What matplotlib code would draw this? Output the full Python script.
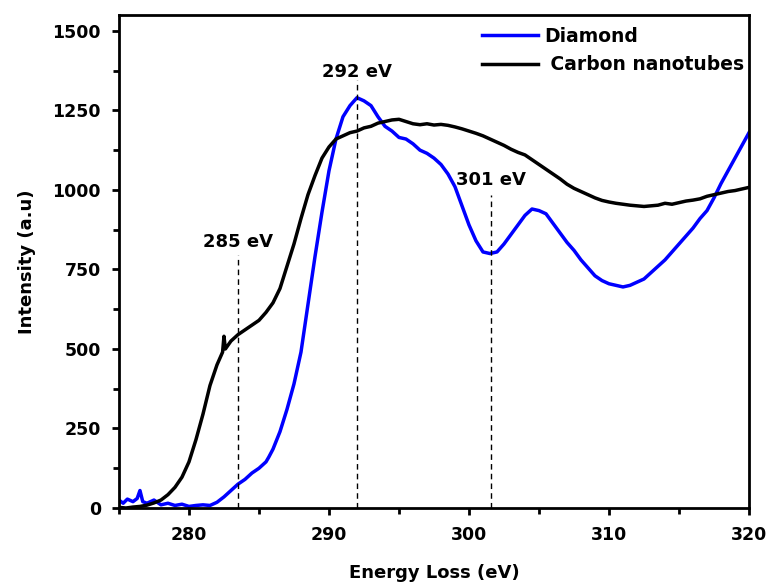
import matplotlib
matplotlib.use("Agg")
import matplotlib.pyplot as plt
from matplotlib.ticker import MultipleLocator

plt.rcParams['font.family'] = ['DejaVu Sans']
plt.rcParams['font.weight'] = 'bold'

# Carbon nanotubes spectrum
cnt_x = [275.0, 275.5, 276.0, 276.5, 277.0, 277.5, 278.0, 278.5, 279.0, 279.5,
         280.0, 280.5, 281.0, 281.5, 282.0, 282.4, 282.5, 282.6, 283.0, 283.5,
         284.0, 284.5, 285.0, 285.5, 286.0, 286.5, 287.0, 287.5, 288.0, 288.5,
         289.0, 289.5, 290.0, 290.5, 291.0, 291.5, 292.0, 292.5, 293.0, 293.5,
         294.0, 294.5, 295.0, 295.5, 296.0, 296.5, 297.0, 297.5, 298.0, 298.5,
         299.0, 299.5, 300.0, 300.5, 301.0, 301.5, 302.0, 302.5, 303.0, 303.5,
         304.0, 304.5, 305.0, 305.5, 306.0, 306.5, 307.0, 307.5, 308.0, 308.5,
         309.0, 309.5, 310.0, 310.5, 311.0, 311.5, 312.0, 312.5, 313.0, 313.5,
         314.0, 314.5, 315.0, 315.5, 316.0, 316.5, 317.0, 317.5, 318.0, 318.5,
         319.0, 319.5, 320.0]
cnt_y = [2, 0, 3, 5, 9, 16, 25, 42, 65, 97,
         145, 215, 295, 385, 450, 490, 540, 500, 525, 545,
         560, 575, 590, 615, 645, 690, 760, 830, 910, 985,
         1045, 1100, 1135, 1160, 1170, 1180, 1185, 1195, 1200, 1210,
         1215, 1220, 1222, 1215, 1208, 1205, 1208, 1204, 1206, 1203,
         1198, 1192, 1185, 1178, 1170, 1160, 1150, 1140, 1128, 1118,
         1110, 1095, 1080, 1065, 1050, 1035, 1018, 1005, 995, 985,
         975, 967, 962, 958, 955, 952, 950, 948, 950, 952,
         958, 955, 960, 965, 968, 972, 980, 985, 990, 995,
         998, 1003, 1008]

# Diamond spectrum
dia_x = [275.0, 275.3, 275.6, 276.0, 276.3, 276.5, 276.7, 277.0, 277.5, 278.0,
         278.5, 279.0, 279.5, 280.0, 280.5, 281.0, 281.5, 282.0, 282.5, 283.0,
         283.5, 284.0, 284.5, 285.0, 285.5, 285.7, 286.0, 286.5, 287.0, 287.5,
         288.0, 288.5, 289.0, 289.5, 290.0, 290.5, 291.0, 291.5, 292.0, 292.5,
         293.0, 293.5, 294.0, 294.5, 295.0, 295.5, 296.0, 296.5, 297.0, 297.5,
         298.0, 298.5, 299.0, 299.5, 300.0, 300.5, 301.0, 301.5, 302.0, 302.5,
         303.0, 303.5, 304.0, 304.5, 305.0, 305.5, 306.0, 306.5, 307.0, 307.5,
         308.0, 308.5, 309.0, 309.5, 310.0, 310.5, 311.0, 311.5, 312.0, 312.5,
         313.0, 313.5, 314.0, 314.5, 315.0, 315.5, 316.0, 316.5, 317.0, 317.5,
         318.0, 318.5, 319.0, 319.5, 320.0]
dia_y = [25, 15, 28, 20, 30, 55, 20, 15, 25, 10,
         15, 8, 12, 5, 8, 10, 8, 18, 35, 55,
         75, 90, 110, 125, 145, 160, 185, 240, 310, 390,
         490, 640, 790, 930, 1060, 1160, 1230, 1265, 1290, 1280,
         1265, 1230, 1200, 1185, 1165, 1160, 1145, 1125, 1115, 1100,
         1080, 1050, 1010, 950, 890, 840, 805, 800, 805, 830,
         860, 890, 920, 940, 935, 925, 895, 865, 835, 810,
         780, 755, 730, 715, 705, 700, 695, 700, 710, 720,
         740, 760, 780, 805, 830, 855, 880, 910, 935, 975,
         1020, 1060, 1100, 1140, 1180]

# dashed markers: position, top of line, label and label height
peak_x = [283.5, 292.0, 301.6]
peak_top = [795, 1346, 984]
peak_labels = ['285 eV', '292 eV', '301 eV']
label_y = [836, 1371, 1031]

fig = plt.figure(figsize=(7.69, 5.85), dpi=100)
ax = fig.add_axes([0.1547, 0.1316, 0.8193, 0.8428])

ax.plot(dia_x, dia_y, color='#0000ff', lw=2.5, label='Diamond')
ax.plot(cnt_x, cnt_y, color='black', lw=2.5, label=' Carbon nanotubes')

for px, top, lab, ly in zip(peak_x, peak_top, peak_labels, label_y):
    ax.plot([px, px], [0, top], color='black', lw=1, ls=(0, (4, 3)))
    ax.text(px, ly, lab, ha='center', va='center', fontsize=13, fontweight='bold')

ax.set_xlim(275, 320)
ax.set_ylim(0, 1550)
ax.xaxis.set_major_locator(MultipleLocator(10))
ax.xaxis.set_minor_locator(MultipleLocator(5))
ax.yaxis.set_major_locator(MultipleLocator(250))
ax.yaxis.set_minor_locator(MultipleLocator(125))
ax.tick_params(which='major', direction='out', length=5, width=2, labelsize=12.5, pad=8)
ax.tick_params(which='minor', direction='out', length=4, width=2)
ax.tick_params(top=False, right=False)
for s in ax.spines.values():
    s.set_linewidth(2)
for lab in ax.get_xticklabels() + ax.get_yticklabels():
    lab.set_fontweight('bold')

ax.set_xlabel('Energy Loss (eV)', fontsize=13, fontweight='bold', labelpad=14)
ax.set_ylabel('Intensity (a.u)', fontsize=13, fontweight='bold', labelpad=12)

leg = ax.legend(loc='upper left', bbox_to_anchor=(482 / 769, 1 - 27 / 585),
                bbox_transform=fig.transFigure, frameon=False, fontsize=13.5,
                handlelength=3.0, handletextpad=0.3, labelspacing=0.5,
                borderpad=0, borderaxespad=0)
for t in leg.get_texts():
    t.set_fontweight('bold')

plt.savefig('out.png', dpi=100)
